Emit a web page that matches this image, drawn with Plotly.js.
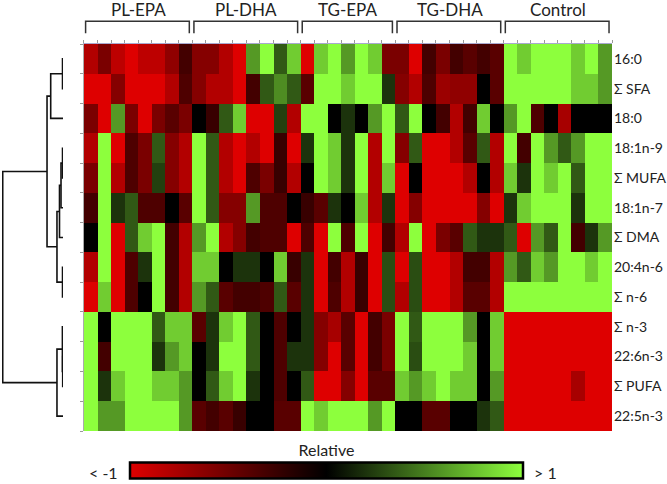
<!DOCTYPE html>
<html>
<head>
<meta charset="utf-8">
<script src="https://cdn.plot.ly/plotly-3.0.1.min.js"></script>
<style>
  html, body { margin: 0; padding: 0; background: #fff; }
  #chart { width: 667px; height: 484px; }
</style>
</head>
<body>
<div id="chart"></div>
<script>
// groups of samples (columns) and their sizes
const groups = ['PL-EPA', 'PL-DHA', 'TG-EPA', 'TG-DHA', 'Control'];
const groupSizes = [8, 8, 7, 8, 8];

// fatty acids (rows), top to bottom
const fattyAcids = ['16:0', 'Σ SFA', '18:0', '18:1n-9', 'Σ MUFA', '18:1n-7', 'Σ DMA',
	'20:4n-6', 'Σ n-6', 'Σ n-3', '22:6n-3', 'Σ PUFA', '22:5n-3'];

// relative values, one array per fatty acid (39 samples each)
const fa16_0 = [-0.8,-0.55,-0.85,-1,-0.85,-0.85,-0.65,-0.3,-0.6,-0.6,-0.8,-1,0.6, 1,0.35,0.8,-1,0.8,1,0.6,1,0.8,-0.55,-0.55,-1,-0.3, -0.55,-0.3,-0.4,-0.3,-0.4,1,0.8,1,1,1,0.8,1,0.6];
const sumSFA = [-1,-1,-0.6,-1,-1,-1,-0.8,-0.35,-0.6,-0.8,-0.8,-1,-0.3, 0.35,0.55,0.35,-0.4,1,1,0.8,1,1,0.2,-0.6,-0.8,-0.35, -0.7,-0.65,-0.65,0,-0.4,1,1,1,1,1,0.8,0.8,0.6];
const fa18_0 = [-0.55,-1,0.6,-0.55,-1,-0.55,-0.4,-0.55,0,-0.25,0.35,0.8,-1, -1,0.25,-0.8,1,1,0,0.2,0,0.6,1,0.35,1,0, -0.3,-0.8,-0.3,0.8,0,0.6,1,-0.35,0,-0.75,0,0,0];
const fa18_1n9 = [-0.8,1,-1,-0.35,-0.55,0.35,-0.6,-0.8,1,0.35,-0.8,-1,-0.8, -1,-0.25,-1,0.2,1,0.8,0.2,1,-0.8,1,-0.6,0.35,-1, -1,-0.8,-0.4,0.35,-0.8,1,-0.3,1,0.6,0.35,0.6,1,1];
const sumMUFA = [-0.55,1,-0.8,-0.35,-0.55,0.25,-0.6,-0.8,1,0.35,-0.8,-1,-0.35, -0.55,-0.25,-0.8,0,1,0.8,0.2,1,-0.8,0.8,-1,0,-1, -1,-1,-0.8,0,-0.8,0.8,0.2,1,0.8,1,0.35,1,1];
const fa18_1n7 = [-0.3,1,0.2,0.35,-0.35,-0.35,0,-0.4,1,0.35,-0.6,-0.6,0.6, -0.35,-0.35,0,-0.25,-0.4,0.2,0,0.8,-0.8,0.2,-1,-0.6,-1, -1,-1,-1,-0.6,-1,0.2,0.8,1,1,1,0.2,1,1];
const sumDMA = [0,1,-1,0.35,0.8,1,-0.3,-0.8,0.6,1,-0.8,-0.6,-0.3, -0.35,-0.35,-1,-0.35,-1,1,-0.35,1,-1,-0.3,-0.8,1,-1, -0.55,-0.4,0.35,0.2,0.2,0.35,-1,0.6,0.35,1,-0.3,0.2,0.6];
const fa20_4n6 = [-0.8,1,-1,-0.35,0.2,1,-0.3,-0.8,0.8,0.8,0,0.2,0.2, 0,0.8,-0.25,0.2,-1,-0.3,-0.8,-0.25,-1,0.3,-1,0.3,-1, -1,-0.8,-0.3,-0.3,-0.8,0.6,0.35,0.8,0.6,1,1,0.8,1];
const sumN6 = [-1,0.8,-1,-0.35,0,1,-0.3,-0.8,0.6,0.35,-0.4,-0.3,-0.3, -0.35,0.35,-0.4,0.2,-1,-0.35,-0.8,-0.25,-1,0.3,-0.8,0.3,-1, -1,-0.8,-0.4,-0.4,-0.8,1,1,1,1,1,1,1,1];
const sumN3 = [1,0,1,1,1,0.35,0.8,0.8,-0.4,0.2,0.8,1,0.35, 0,-0.35,0,0.2,-0.6,-0.75,-0.4,-1,-0.3,-0.55,1,0.35,1, 1,1,0.6,0,0.8,-1,-1,-1,-1,-1,-1,-1,-1];
const fa22_6n3 = [1,-0.3,1,1,1,0.2,0.6,0.8,0,0.2,1,1,0.35, 0,-0.35,0.2,0.2,-0.6,-1,-0.4,-1,-0.3,-0.55,1,0.3,1, 1,1,0.8,0,0.8,-1,-1,-1,-1,-1,-1,-1,-1];
const sumPUFA = [1,0.2,0.8,1,1,0.8,0.8,0.6,0,0.35,0.8,1,0.2, 0,-0.35,0,0.35,-1,-1,-0.6,-1,-0.4,-0.4,0.8,0.6,0.8, 1,0.8,0.8,0,0.6,-1,-1,-1,-1,-1,-0.75,-1,-1];
const fa22_5n3 = [1,0.6,0.6,1,1,1,1,0.6,-0.4,-0.3,-0.4,-0.25,0, 0,-0.4,-0.4,1,0.8,1,1,1,0.6,1,0,0,-0.4, -0.4,0,0,0.2,0.35,-1,-1,-1,-1,-1,-1,-1,-1];

// row dendrogram: cluster k (k >= 13) joins linkA[k-13] and linkB[k-13] at linkH[k-13]
const linkA = [0, 13, 3, 15, 16, 7, 17, 14, 10, 9, 22, 20];
const linkB = [1, 2, 4, 5, 6, 8, 18, 19, 11, 21, 12, 23];
const linkH = [0.008, 0.204, 0.008, 0.033, 0.058, 0.008, 0.1, 0.265, 0.005, 0.01, 0.1, 1.0];

const z = [fa16_0, sumSFA, fa18_0, fa18_1n9, sumMUFA, fa18_1n7, sumDMA,
	fa20_4n6, sumN6, sumN3, fa22_6n3, sumPUFA, fa22_5n3];
const nCols = fa16_0.length;
const nRows = fattyAcids.length;

const heat = {
	type: 'heatmap',
	z: z,
	x: [...Array(nCols).keys()],
	y: [...Array(nRows).keys()],
	zmin: -1, zmax: 1,
	colorscale: [[0, 'rgb(222,0,0)'], [0.5, 'rgb(0,0,0)'], [1, 'rgb(141,255,61)']],
	hoverinfo: 'skip',
	colorbar: {
		orientation: 'h',
		x: 0.532, xanchor: 'center',
		yref: 'container', y: 0.006, yanchor: 'bottom',
		lenmode: 'pixels', len: 393,
		thickness: 16,
		outlinewidth: 2.5, outlinecolor: '#000',
		showticklabels: false, ticks: '',
		xpad: 0, ypad: 0,
		title: {text: 'Relative', side: 'top', font: {size: 16, color: '#222'}}
	}
};

// build dendrogram segments from the linkage
const nodeY = [...Array(nRows).keys()];
const nodeH = Array(nRows).fill(0);
const dx = [], dy = [];
linkA.forEach((a, i) => {
	const b = linkB[i], h = linkH[i];
	dx.push(nodeH[a], h, h, nodeH[b], null);
	dy.push(nodeY[a], nodeY[a], nodeY[b], nodeY[b], null);
	nodeY.push((nodeY[a] + nodeY[b]) / 2);
	nodeH.push(h);
});

const dendro = {
	type: 'scatter', mode: 'lines',
	x: dx, y: dy,
	xaxis: 'x2', yaxis: 'y2',
	line: {color: '#111', width: 1.6},
	hoverinfo: 'skip', showlegend: false
};

// group brackets and labels above the columns
const shapes = [];
const annotations = [];
let start = 0;
groups.forEach((g, i) => {
	const x0 = start - 0.5 + 0.12, x1 = start + groupSizes[i] - 0.5 - 0.22;
	shapes.push({
		type: 'path', xref: 'x', yref: 'paper',
		path: `M ${x0},1.028 L ${x0},1.059 L ${x1},1.059 L ${x1},1.028`,
		line: {color: '#333', width: 1.5}
	});
	annotations.push({
		text: g, xref: 'x', yref: 'paper',
		x: start + (groupSizes[i] - 1) / 2, y: 1.089,
		xanchor: 'center', yanchor: 'middle', showarrow: false,
		font: {size: 17, color: '#222'}
	});
	start += groupSizes[i];
});
annotations.push(
	{text: '< -1', xref: 'paper', yref: 'paper', x: 0.194, y: -0.1072,
		xanchor: 'right', yanchor: 'middle', showarrow: false, font: {size: 16, color: '#222'}},
	{text: '> 1', xref: 'paper', yref: 'paper', x: 0.869, y: -0.1072,
		xanchor: 'left', yanchor: 'middle', showarrow: false, font: {size: 16, color: '#222'}}
);

const bounds = [...Array(nCols + 1).keys()].map(v => v - 0.5);
const rowBounds = [...Array(nRows + 1).keys()].map(v => v - 0.5);

const layout = {
	width: 667, height: 484,
	margin: {l: 2, r: 55, t: 44, b: 53},
	paper_bgcolor: '#fff', plot_bgcolor: '#fff',
	font: {family: 'Lato, "Open Sans", sans-serif', color: '#222'},
	showlegend: false,
	xaxis: {
		domain: [0.1344, 1], range: [-0.5, nCols - 0.5],
		side: 'top', showline: true, linecolor: '#a9a9cf', linewidth: 1,
		tickvals: bounds, ticks: 'outside', ticklen: 3, tickcolor: '#999',
		showticklabels: false, showgrid: false, zeroline: false
	},
	yaxis: {
		range: [nRows - 0.5, -0.5], side: 'left',
		showline: true, linecolor: '#aaa', linewidth: 1,
		tickvals: rowBounds, ticks: 'outside', ticklen: 3, tickcolor: '#999',
		showticklabels: false, showgrid: false, zeroline: false
	},
	xaxis2: {
		domain: [0, 0.1], range: [1.012, 0], anchor: 'y2',
		visible: false
	},
	yaxis2: {
		anchor: 'free', position: 1, side: 'right',
		range: [nRows - 0.5, -0.5],
		tickvals: [...Array(nRows).keys()], ticktext: fattyAcids,
		ticks: '', showline: false, showgrid: false, zeroline: false,
		ticklabelstandoff: 1,
		tickfont: {size: 14, color: '#222'}
	},
	shapes: shapes,
	annotations: annotations
};

Plotly.newPlot('chart', [heat, dendro], layout, {displayModeBar: false, staticPlot: true});
</script>
</body>
</html>
